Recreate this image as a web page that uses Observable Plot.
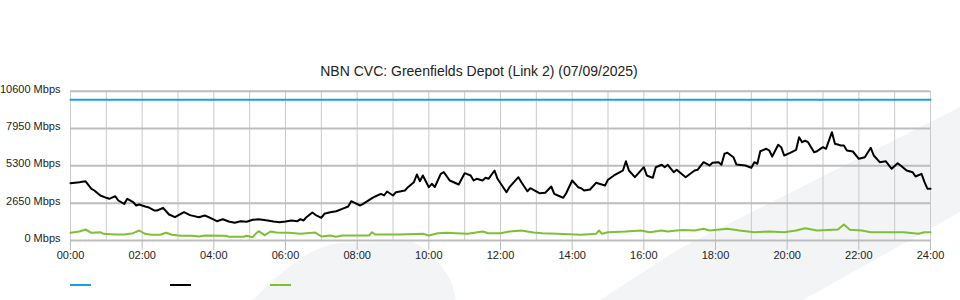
<!DOCTYPE html>
<html><head><meta charset="utf-8">
<script src="https://cdn.jsdelivr.net/npm/d3@7"></script>
<script src="https://cdn.jsdelivr.net/npm/@observablehq/plot@0.6"></script>
<style>
body{margin:0;width:960px;height:300px;position:relative;overflow:hidden;background:#fff;font-family:"Liberation Sans",Arial,sans-serif;}
#bg{position:absolute;left:0;top:0;}
#title{position:absolute;top:62px;left:0;width:958px;text-align:center;font-size:14px;color:#222;line-height:18px;}
#chart{position:absolute;top:80px;left:0;}
#legend{position:absolute;top:284px;left:0;width:960px;height:4px;}
.sw{position:absolute;width:21px;height:2px;top:0;}
</style></head>
<body>
<svg id="bg" width="960" height="300"><path d="M600,300 L677,250 L960,107 L960,212 L803,300 Z" fill="#f3f4f6"/><path d="M253,300 C290,262 315,246 340,243 L413,242 C430,250 445,268 452,283 L456,300 Z" fill="#f3f4f6"/></svg>
<div id="title"></div>
<div id="chart"></div>
<div id="legend"></div>
<script>
const chartTitle = "NBN CVC: Greenfields Depot (Link 2) (07/09/2025)";
const seriesColors = ["#1a9fe0", "#000000", "#7fbf33"];
const yTickValues = [0, 2650, 5300, 7950, 10600];
const yTickLabels = ["0 Mbps", "2650 Mbps", "5300 Mbps", "7950 Mbps", "10600 Mbps"];
const xTickLabels = ["00:00","02:00","04:00","06:00","08:00","10:00","12:00","14:00","16:00","18:00","20:00","22:00","24:00"];

const capacityTimes = ["00:00","24:00"];
const capacityValues = [10000, 10000];

const trafficInTimes = ["00:00","00:15","00:25","00:35","00:40","00:50","01:00","01:05","01:15","01:20","01:30","01:35","01:45","01:50","01:55","02:05","02:10","02:20","02:25","02:35","02:45","02:55","03:10","03:20","03:35","03:45","03:55","04:05","04:15","04:25","04:35","04:45","04:55","05:05","05:15","05:30","05:40","05:50","06:00","06:10","06:20","06:25","06:30","06:35","06:45","06:50","07:00","07:05","07:15","07:25","07:35","07:45","07:50","08:05","08:10","08:25","08:30","08:40","08:45","08:50","09:00","09:05","09:20","09:25","09:35","09:40","09:45","09:50","10:00","10:05","10:10","10:20","10:25","10:35","10:50","11:00","11:10","11:15","11:20","11:30","11:35","11:40","11:50","11:55","12:10","12:15","12:30","12:35","12:45","12:50","13:05","13:15","13:25","13:30","13:40","13:45","13:50","14:00","14:10","14:15","14:20","14:30","14:40","14:55","15:00","15:10","15:20","15:25","15:30","15:35","15:45","15:50","16:00","16:05","16:15","16:20","16:30","16:35","16:40","16:50","16:55","17:05","17:10","17:25","17:30","17:40","17:50","17:55","18:05","18:10","18:15","18:20","18:30","18:35","18:50","19:00","19:05","19:10","19:15","19:25","19:30","19:35","19:45","19:50","19:55","20:05","20:15","20:20","20:25","20:30","20:35","20:45","20:50","21:00","21:05","21:15","21:20","21:30","21:35","21:40","21:50","22:00","22:10","22:20","22:25","22:35","22:45","22:55","23:05","23:10","23:20","23:30","23:35","23:45","23:50","23:55","24:00"];
const trafficInValues = [4070,4140,4210,3670,3550,3195,3030,2960,3145,2840,2600,2960,2720,2485,2556,2414,2364,2130,2130,2320,1846,1654,2010,1800,1654,1775,1583,1370,1512,1349,1257,1370,1328,1470,1512,1420,1349,1300,1349,1420,1370,1512,1420,1654,1990,1825,1612,1896,2010,2080,2250,2414,2790,2485,2606,3003,3124,3316,3195,3479,3195,3430,3550,3785,4140,4686,4210,4615,3785,4025,3800,4735,4850,4260,3976,4780,4615,4260,4380,4260,4450,4380,4970,4380,3430,3785,4495,4140,3500,3713,3358,3387,3834,3316,3124,3030,3358,4260,3785,3713,3550,3620,4097,3905,4310,4615,4850,4970,5630,4970,4495,4735,5204,4615,4450,5204,5375,5204,5375,4850,5020,4670,4495,4970,5020,5560,5325,5517,5560,5375,6156,6227,5915,5396,5325,5162,5560,5446,6340,6511,6390,5964,6795,6624,6035,6227,6440,7334,6980,7080,6980,6270,6340,6624,6511,7690,6866,6745,6745,6390,6319,5800,5915,6582,6035,5560,5630,5091,5488,5325,4970,4850,4544,4735,4140,3670,3670];

const trafficOutTimes = ["00:00","00:15","00:25","00:35","00:50","00:55","01:15","01:30","01:45","01:55","02:05","02:15","02:30","02:40","02:50","03:05","03:25","03:35","03:45","04:20","04:25","04:50","04:55","05:05","05:10","05:15","05:25","05:35","05:45","06:05","06:25","06:35","06:50","07:00","07:15","07:25","07:35","08:20","08:25","08:30","09:10","09:50","10:00","10:15","10:30","10:45","11:05","11:30","11:40","12:00","12:15","12:35","12:55","13:10","13:35","14:15","14:40","14:45","14:50","15:00","15:30","15:55","16:10","16:30","16:40","16:55","17:05","17:25","17:40","17:50","18:20","18:40","19:05","19:30","19:55","20:15","20:30","20:50","21:25","21:35","21:45","22:05","22:20","22:45","23:15","23:40","23:50","24:00"];
const trafficOutValues = [547,640,781,547,590,475,426,426,520,710,475,405,405,547,405,334,334,284,355,334,263,263,334,234,475,660,376,640,568,547,475,520,560,284,355,263,355,355,590,426,426,475,355,520,547,520,475,640,520,520,640,710,568,520,475,405,475,710,475,590,640,710,590,710,640,710,740,710,830,710,830,710,590,640,590,710,875,710,781,1136,758,710,590,590,590,475,590,590];

const toMin = s => { const [h, m] = s.split(":").map(Number); return h * 60 + m; };
const rows = (times, vals) => times.map((t, i) => ({t: toMin(t), v: vals[i]}));
const capacity = rows(capacityTimes, capacityValues);
const trafficIn = rows(trafficInTimes, trafficInValues);
const trafficOut = rows(trafficOutTimes, trafficOutValues);
const xTickValues = xTickLabels.map(toMin);
const hourGrid = d3.range(0, 1441, 60);

document.getElementById("title").textContent = chartTitle;

const chart = Plot.plot({
  width: 960, height: 180,
  marginLeft: 70, marginRight: 30, marginTop: 10.7, marginBottom: 20,
  style: {fontFamily: "'Liberation Sans', Arial, sans-serif", fontSize: "11px", color: "#222", background: "transparent", overflow: "visible"},
  x: {type: "linear", domain: [0, 1440], label: null},
  y: {domain: [0, 10600], label: null},
  marks: [
    Plot.ruleX(hourGrid, {stroke: "#c9c9c9", strokeWidth: 1}),
    Plot.ruleY(yTickValues, {stroke: "#bdbdbd", strokeWidth: 2}),
    Plot.axisX(xTickValues, {tickSize: 10, tickPadding: 1, stroke: "#bbb", fill: "#222", label: null, tickFormat: (d, i) => xTickLabels[i]}),
    Plot.axisY(yTickValues, {tickSize: 0, tickPadding: 10, dy: -2, fill: "#222", label: null, tickFormat: (d, i) => yTickLabels[i]}),
    Plot.line(trafficOut, {x: "t", y: "v", stroke: seriesColors[2], strokeWidth: 2}),
    Plot.line(trafficIn, {x: "t", y: "v", stroke: seriesColors[1], strokeWidth: 2, strokeLinejoin: "round"}),
    Plot.line(capacity, {x: "t", y: "v", stroke: seriesColors[0], strokeWidth: 2})
  ]
});
document.getElementById("chart").appendChild(chart);

const legend = document.getElementById("legend");
seriesColors.forEach((c, i) => {
  const s = document.createElement("div");
  s.className = "sw";
  s.style.left = (70 + i * 100) + "px";
  s.style.background = c;
  legend.appendChild(s);
});
</script>
</body></html>
